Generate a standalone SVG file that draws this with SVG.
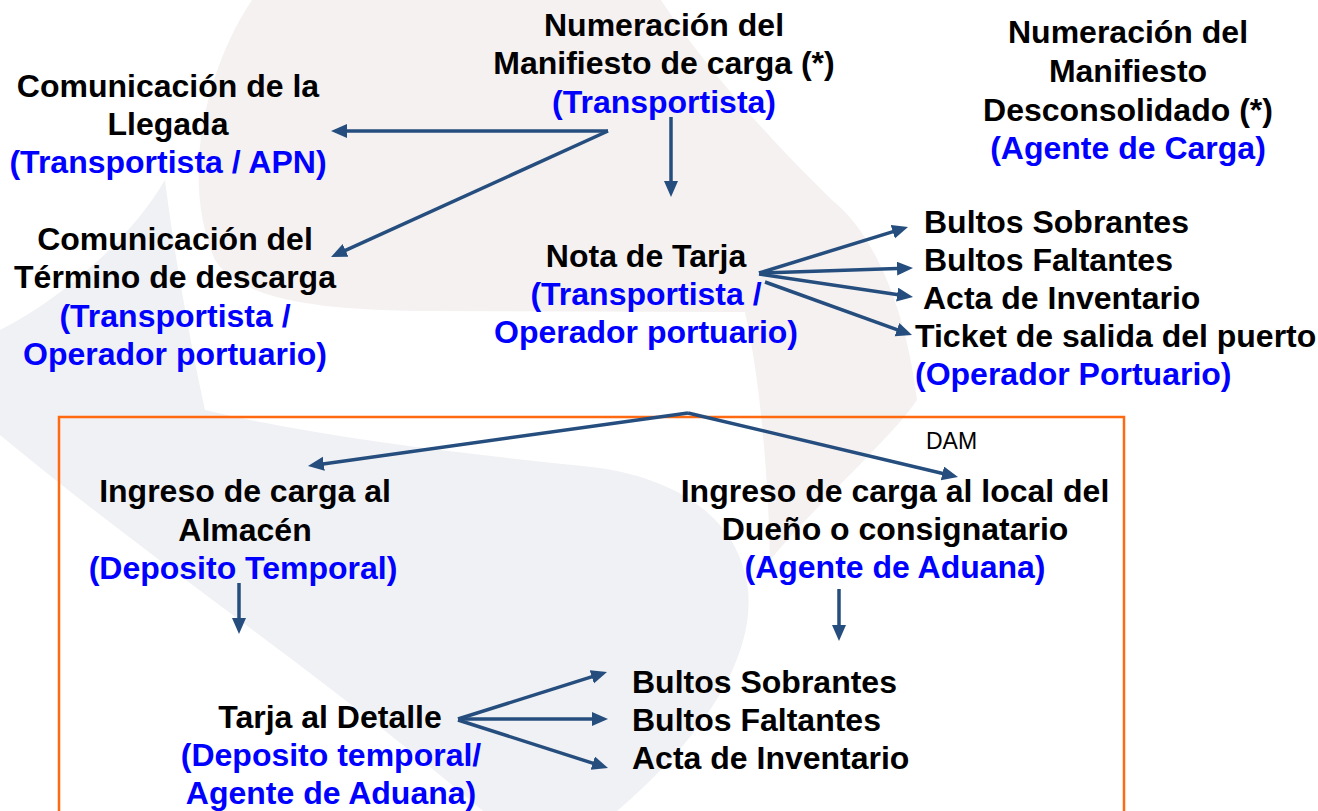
<svg xmlns="http://www.w3.org/2000/svg" width="1318" height="811" viewBox="0 0 1318 811">
<style>
text{font-family:"Liberation Sans",Arial,sans-serif;font-size:32px;font-weight:bold;fill:#000}
.b{fill:#0000ff}
.c{text-anchor:middle}
.dam{font-size:23px;font-weight:normal}
.cn line{stroke:#254e7e;stroke-width:3.5;marker-end:url(#ah)}
</style>
<defs>
<marker id="ah" markerUnits="userSpaceOnUse" markerWidth="18" markerHeight="16" refX="8" refY="7" orient="auto"><path d="M0,0 L16,7 L0,14 Z" fill="#254e7e"/></marker>
</defs>
<rect width="1318" height="811" fill="#ffffff"/>
<g id="watermark">
<path d="M252,0 C205,70 180,180 215,260 C240,300 320,310 420,311 L745,312 C760,380 768,470 770,560 C820,500 890,440 917,400 C905,300 870,230 832,200 C760,130 700,60 661,0 Z" fill="#f5f1f1"/>
<path d="M165,180 C130,240 60,300 0,330 L0,435 C150,560 330,680 483,811 L617,811 C700,740 755,660 748,590 C740,520 680,480 600,468 C480,455 330,440 205,410 C190,340 175,260 165,180 Z" fill="#f0f1f4"/>
</g>
<rect id="frame" x="59" y="417" width="1065" height="420" fill="none" stroke="#ff6a10" stroke-width="2.5"/>
<g id="connectors" class="cn">
<line x1="608" y1="131" x2="339" y2="131"/>
<line x1="608" y1="131" x2="338.3" y2="253.7"/>
<line x1="671" y1="117" x2="671" y2="189"/>
<line x1="759" y1="273" x2="900.4" y2="229.4"/>
<line x1="759" y1="273" x2="905" y2="268.3"/>
<line x1="759" y1="274" x2="905.1" y2="295.8"/>
<line x1="765" y1="282" x2="904.5" y2="332.3"/>
<line x1="688" y1="413" x2="315.9" y2="464.9"/>
<line x1="688" y1="413" x2="950.2" y2="475.2"/>
<line x1="239" y1="583" x2="239" y2="626"/>
<line x1="839" y1="589" x2="839" y2="633"/>
<line x1="458" y1="719" x2="599.4" y2="674.4"/>
<line x1="458" y1="719" x2="600" y2="719"/>
<line x1="458" y1="720" x2="600.4" y2="765.6"/>
</g>
<g id="n-manifiesto">
<text x="664" y="36" class="c">Numeración del</text>
<text x="664" y="74" class="c">Manifiesto de carga (*)</text>
<text x="664" y="113" class="c b">(Transportista)</text>
</g>
<g id="n-desconsolidado">
<text x="1128" y="43" class="c">Numeración del</text>
<text x="1128" y="82" class="c">Manifiesto</text>
<text x="1128" y="121" class="c">Desconsolidado (*)</text>
<text x="1128" y="159" class="c b">(Agente de Carga)</text>
</g>
<g id="n-llegada">
<text x="168" y="97" class="c">Comunicación de la</text>
<text x="168" y="135" class="c">Llegada</text>
<text x="168" y="173" class="c b">(Transportista / APN)</text>
</g>
<g id="n-termino">
<text x="175" y="250" class="c">Comunicación del</text>
<text x="175" y="288" class="c">Término de descarga</text>
<text x="175" y="327" class="c b">(Transportista /</text>
<text x="175" y="365" class="c b">Operador portuario)</text>
</g>
<g id="n-nota">
<text x="646" y="267" class="c">Nota de Tarja</text>
<text x="646" y="305" class="c b">(Transportista /</text>
<text x="646" y="343" class="c b">Operador portuario)</text>
</g>
<g id="n-resultados1">
<text x="924" y="233">Bultos Sobrantes</text>
<text x="924" y="271">Bultos Faltantes</text>
<text x="923" y="309">Acta de Inventario</text>
<text x="915" y="347">Ticket de salida del puerto</text>
<text x="915" y="385" class="b">(Operador Portuario)</text>
</g>
<text id="l-dam" x="926" y="449" class="dam">DAM</text>
<g id="n-almacen">
<text x="245" y="502" class="c">Ingreso de carga al</text>
<text x="245" y="541" class="c">Almacén</text>
<text x="243" y="579" class="c b">(Deposito Temporal)</text>
</g>
<g id="n-local">
<text x="895" y="502" class="c">Ingreso de carga al local del</text>
<text x="895" y="540" class="c">Dueño o consignatario</text>
<text x="895" y="578" class="c b">(Agente de Aduana)</text>
</g>
<g id="n-tarja-detalle">
<text x="330" y="728" class="c">Tarja al Detalle</text>
<text x="331" y="766" class="c b">(Deposito temporal/</text>
<text x="331" y="804" class="c b">Agente de Aduana)</text>
</g>
<g id="n-resultados2">
<text x="632" y="693">Bultos Sobrantes</text>
<text x="632" y="731">Bultos Faltantes</text>
<text x="632" y="769">Acta de Inventario</text>
</g>
</svg>
